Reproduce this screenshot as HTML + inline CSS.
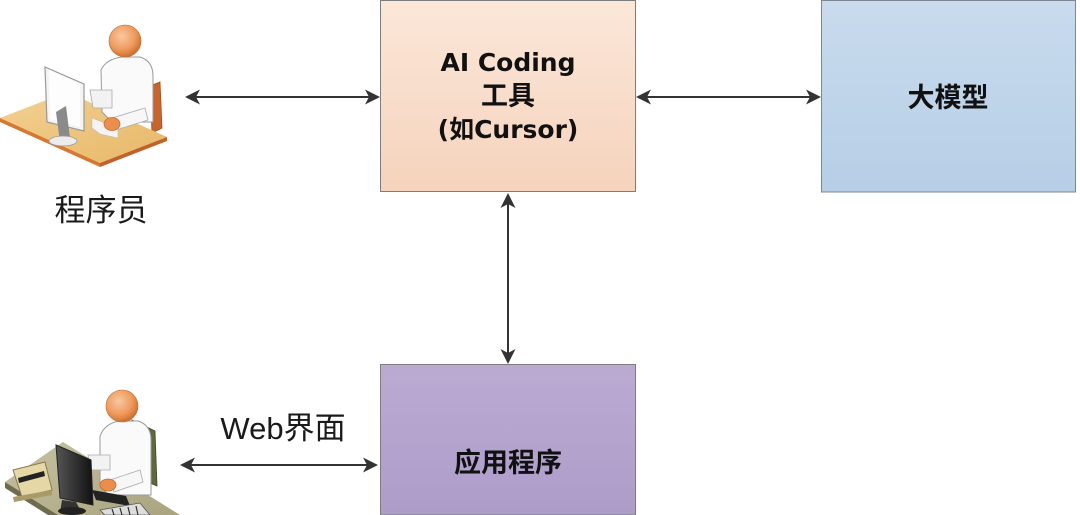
<!DOCTYPE html>
<html><head><meta charset="utf-8">
<style>
html,body{margin:0;padding:0;background:#fff;}
body{width:1080px;height:515px;overflow:hidden;position:relative;}
svg{position:absolute;left:0;top:0;display:block;}
.t{font-family:"DejaVu Sans","Noto Sans CJK SC",sans-serif;font-weight:bold;fill:#111;}
.r{font-family:"Liberation Sans","Noto Sans CJK SC",sans-serif;fill:#1a1a1a;}
</style></head>
<body>
<svg width="1080" height="515" viewBox="0 0 1080 515" xmlns="http://www.w3.org/2000/svg">
<defs>
<linearGradient id="ga" x1="0" y1="0" x2="0" y2="1"><stop offset="0" stop-color="#fbe7d9"/><stop offset="1" stop-color="#f5d3bc"/></linearGradient>
<linearGradient id="gb" x1="0" y1="0" x2="0" y2="1"><stop offset="0" stop-color="#c9dbed"/><stop offset="1" stop-color="#b6cee6"/></linearGradient>
<linearGradient id="gc" x1="0" y1="0" x2="0" y2="1"><stop offset="0" stop-color="#bbabd3"/><stop offset="1" stop-color="#ad9cc8"/></linearGradient>
<radialGradient id="head" cx="0.4" cy="0.35" r="0.7"><stop offset="0" stop-color="#f8c8a0"/><stop offset="0.6" stop-color="#ee9a5c"/><stop offset="1" stop-color="#c9682a"/></radialGradient>
<linearGradient id="desk1" x1="0" y1="0" x2="1" y2="1"><stop offset="0" stop-color="#f3d193"/><stop offset="1" stop-color="#e7b868"/></linearGradient>
<linearGradient id="desk2" x1="0" y1="0" x2="1" y2="1"><stop offset="0" stop-color="#c6c2a2"/><stop offset="1" stop-color="#a9a47e"/></linearGradient>
<linearGradient id="mon" x1="0" y1="0" x2="1" y2="0"><stop offset="0" stop-color="#555"/><stop offset="1" stop-color="#111"/></linearGradient>
</defs>

<!-- Boxes -->
<rect x="380.5" y="0.5" width="255" height="191" fill="url(#ga)" stroke="#7d7d7d" stroke-width="1"/>
<rect x="821.5" y="0.5" width="254" height="191.5" fill="url(#gb)" stroke="#7d8794" stroke-width="1"/>
<rect x="380.5" y="364.5" width="255" height="150.5" fill="url(#gc)" stroke="#7d7d7d" stroke-width="1"/>

<!-- Box text -->
<text class="t" x="508" y="71" text-anchor="middle" font-size="25">AI Coding</text>
<text class="t" x="508" y="105" text-anchor="middle" font-size="27">工具</text>
<text class="t" x="508" y="138" text-anchor="middle" font-size="25">(如Cursor)</text>
<text class="t" x="948" y="107" text-anchor="middle" font-size="27">大模型</text>
<text class="t" x="508" y="472" text-anchor="middle" font-size="27">应用程序</text>

<!-- Labels -->
<text class="r" x="101" y="221" text-anchor="middle" font-size="31">程序员</text>
<text class="r" x="283" y="439" text-anchor="middle" font-size="31">Web界面</text>

<!-- Arrows -->
<g stroke="#333" stroke-width="2" fill="none">
<line x1="195" y1="97" x2="370" y2="97"/>
<line x1="646" y1="97" x2="810" y2="97"/>
<line x1="508" y1="203" x2="508" y2="353"/>
<line x1="190" y1="465" x2="367" y2="465"/>
</g>
<g fill="#333">
<polygon points="185,97 200,89.5 196,97 200,104.5"/>
<polygon points="380,97 365,89.5 369,97 365,104.5"/>
<polygon points="636,97 651,89.5 647,97 651,104.5"/>
<polygon points="821,97 806,89.5 810,97 806,104.5"/>
<polygon points="508,193 500.5,208 508,204 515.5,208"/>
<polygon points="508,364 500.5,349 508,353 515.5,349"/>
<polygon points="180,465 195,457.5 191,465 195,472.5"/>
<polygon points="378,465 363,457.5 367,465 363,472.5"/>
</g>

<!-- Icon 1: programmer -->
<g>
<polygon points="150,86 160,82 162,128 152,133" fill="#c9652c" stroke="#a04e1e" stroke-width="0.8"/>
<polygon points="0,118 67,92 167,137 100,163" fill="url(#desk1)"/>
<polygon points="0,118 100,163 100,167 0,122" fill="#d8772f"/>
<polygon points="100,163 167,137 167,141 100,167" fill="#c0622a"/>
<path d="M101,70 Q106,59 122,57 L140,57 Q153,61 153,76 L153,122 L112,122 L102,112 Z" fill="#fafafa" stroke="#9a9a9a" stroke-width="1"/>
<path d="M90,90 L112,90 L112,108 L93,108 Z" fill="#f2f2f2" stroke="#aaa" stroke-width="0.8"/>
<path d="M112,118 L145,108 L148,120 L116,130 Z" fill="#f7f7f7" stroke="#aaa" stroke-width="0.8"/>
<polygon points="92,118 118,128 118,138 100,134 92,128" fill="#f4f4f4" stroke="#bbb" stroke-width="0.6"/>
<ellipse cx="112" cy="124" rx="8" ry="6.5" fill="#e98e4d" stroke="#c86b2c" stroke-width="0.8"/>
<polygon points="45,67 84,84 84,131 47,122" fill="#f4f4f4" stroke="#999" stroke-width="1.2"/>
<polygon points="49,70 80,84 80,127 50,119" fill="#fdfdfd"/>
<polygon points="56,112 66,106 70,138 60,142" fill="#8a8a8a"/>
<ellipse cx="63" cy="141" rx="14" ry="5" fill="#ececec" stroke="#999" stroke-width="0.8"/>
<circle cx="125" cy="41" r="16" fill="url(#head)" stroke="#c06a30" stroke-width="0.6"/>
</g>

<!-- Icon 2: user -->
<g>
<polygon points="132,420 155,431 157,486 134,476" fill="#5e6a3a" stroke="#3e4628" stroke-width="0.8"/>
<polygon points="5,482 63,442 180,515 58,515" fill="url(#desk2)"/>
<polygon points="5,482 58,515 48,515 5,488" fill="#6f6c4d"/>
<polygon points="13,470 45,462 52,490 22,497" fill="#e5d7a6" stroke="#8a7a50" stroke-width="1"/>
<polygon points="18,478 44,471 45,476 19,483" fill="#222"/>
<polygon points="13,497 52,490 52,495 14,502" fill="#aa9a68"/>
<path d="M100,436 Q105,423 120,421 L138,421 Q151,425 151,440 L151,495 L108,495 L100,485 Z" fill="#fafafa" stroke="#9a9a9a" stroke-width="1"/>
<path d="M88,455 L110,455 L110,470 L90,470 Z" fill="#f2f2f2" stroke="#aaa" stroke-width="0.8"/>
<path d="M110,480 L140,470 L143,482 L114,492 Z" fill="#f7f7f7" stroke="#aaa" stroke-width="0.8"/>
<polygon points="92,490 126,496 130,506 96,500" fill="#222"/>
<ellipse cx="108" cy="485" rx="8" ry="6" fill="#e98e4d" stroke="#c86b2c" stroke-width="0.8"/>
<polygon points="56,445 91,460 93,505 60,498" fill="url(#mon)" stroke="#222" stroke-width="1"/>
<polygon points="62,500 76,502 82,513 60,513" fill="#333"/>
<ellipse cx="72" cy="511" rx="14" ry="4" fill="#222"/>
<polygon points="100,510 140,503 150,515 105,515" fill="#ddd" stroke="#555" stroke-width="0.8"/>
<g stroke="#333" stroke-width="1.2"><line x1="112" y1="509" x2="114" y2="515"/><line x1="120" y1="508" x2="122" y2="515"/><line x1="128" y1="507" x2="130" y2="515"/><line x1="136" y1="506" x2="138" y2="515"/></g>
<circle cx="122" cy="406" r="16" fill="url(#head)" stroke="#c06a30" stroke-width="0.6"/>
</g>
</svg>
</body></html>
